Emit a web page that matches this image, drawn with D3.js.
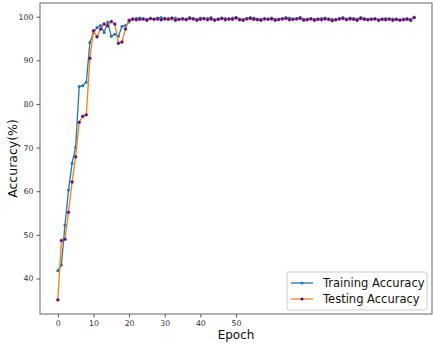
<!DOCTYPE html>
<html>
<head>
<meta charset="utf-8">
<script src="https://cdn.jsdelivr.net/npm/d3@7"></script>
<style>
  body { margin: 0; background: #fff; }
  text { font-family: "DejaVu Sans", sans-serif; }
</style>
</head>
<body>
<svg id="chart" width="433" height="344"></svg>
<script>
// accuracy per epoch
var trainAcc = [41.8, 43.1, 52.2, 60.3, 66.4, 70.1, 84.0, 84.2, 85.0, 94.1,
  96.3, 97.5, 98.0, 96.4, 98.7, 95.5, 96.0, 95.5, 97.8, 98.0, 98.8,
  99.4, 99.6, 99.7, 99.5, 99.4, 99.6, 99.5, 99.7, 99.8, 99.4,
  99.6, 99.5, 99.7, 99.3, 99.6, 99.5, 99.8, 99.6, 99.4, 99.7,
  99.5, 99.6, 99.8, 99.3, 99.5, 99.7, 99.6, 99.4, 99.7, 99.9,
  99.5, 99.4, 99.6, 99.8, 99.7, 99.5, 99.4, 99.6, 99.5, 99.7,
  99.4, 99.3, 99.6, 99.8, 99.7, 99.5, 99.6, 99.9, 99.4, 99.5,
  99.6, 99.4, 99.5, 99.6, 99.7, 99.5, 99.4, 99.3, 99.6, 99.8,
  99.5, 99.7, 99.6, 99.5, 99.8, 99.6, 99.4, 99.5, 99.6, 99.3,
  99.5, 99.6, 99.4, 99.5, 99.4, 99.3, 99.5, 99.6, 99.4, 99.9];

var testAcc = [35.1, 48.7, 49.0, 55.2, 62.1, 67.9, 75.8, 77.2, 77.5, 90.5,
  96.8, 95.4, 97.2, 98.3, 97.9, 98.9, 98.3, 93.9, 94.2, 97.2, 99.2,
  99.5, 99.3, 99.4, 99.5, 99.2, 99.6, 99.4, 99.5, 99.3, 99.6,
  99.4, 99.7, 99.2, 99.4, 99.5, 99.3, 99.6, 99.5, 99.2, 99.4,
  99.6, 99.3, 99.5, 99.2, 99.4, 99.6, 99.3, 99.5, 99.4, 99.7,
  99.3, 99.2, 99.5, 99.6, 99.4, 99.3, 99.2, 99.5, 99.4, 99.5,
  99.2, 99.4, 99.5, 99.6, 99.3, 99.4, 99.5, 99.6, 99.2, 99.3,
  99.5, 99.2, 99.4, 99.3, 99.5, 99.4, 99.1, 99.3, 99.5, 99.6,
  99.3, 99.5, 99.4, 99.2, 99.6, 99.4, 99.3, 99.4, 99.5, 99.2,
  99.4, 99.3, 99.5, 99.2, 99.4, 99.2, 99.3, 99.4, 99.2, 99.8];

var xTicks = [0, 10, 20, 30, 40, 50];
var yTicks = [40, 50, 60, 70, 80, 90, 100];
var seriesNames = ['Training Accuracy', 'Testing Accuracy'];

var svg = d3.select('#chart');
var pLeft = 40, pRight = 432, pTop = 3, pBottom = 314;

var x = d3.scaleLinear().domain([-5, 105]).range([pLeft, pRight]);
var y = d3.scaleLinear().domain([31.86, 103.14]).range([pBottom, pTop]);

// axes
var xAxis = svg.append('g')
  .attr('transform', 'translate(0,' + pBottom + ')')
  .call(d3.axisBottom(x).tickValues(xTicks).tickSize(3.5).tickPadding(2.5));
var yAxis = svg.append('g')
  .attr('transform', 'translate(' + pLeft + ',0)')
  .call(d3.axisLeft(y).tickValues(yTicks).tickSize(3.5).tickPadding(3));

[xAxis, yAxis].forEach(function(a){
  a.select('.domain').remove();
  a.selectAll('line').attr('stroke', '#555');
  a.selectAll('text').attr('fill', '#333').style('font-size', '7.8px');
});

// frame
svg.append('rect')
  .attr('x', pLeft).attr('y', pTop)
  .attr('width', pRight - pLeft).attr('height', pBottom - pTop)
  .attr('fill', 'none').attr('stroke', '#666').attr('stroke-width', 1);

var line = d3.line()
  .x(function(d, i){ return x(i); })
  .y(function(d){ return y(d); });

// training
svg.append('path').datum(trainAcc)
  .attr('d', line).attr('fill', 'none')
  .attr('stroke', '#1f77b4').attr('stroke-width', 1.3);
svg.append('g').selectAll('circle').data(trainAcc).enter()
  .append('circle')
  .attr('cx', function(d, i){ return x(i); })
  .attr('cy', function(d){ return y(d); })
  .attr('r', 1.5).attr('fill', '#1f77b4');

// testing
svg.append('path').datum(testAcc)
  .attr('d', line).attr('fill', 'none')
  .attr('stroke', '#ff7f0e').attr('stroke-width', 1.3);
svg.append('g').selectAll('circle').data(testAcc).enter()
  .append('circle')
  .attr('cx', function(d, i){ return x(i); })
  .attr('cy', function(d){ return y(d); })
  .attr('r', 1.5).attr('fill', '#2b1496')
  .attr('stroke', '#d0306a').attr('stroke-width', 0.5);

// axis titles
svg.append('text')
  .attr('x', (pLeft + pRight) / 2).attr('y', 339)
  .attr('text-anchor', 'middle')
  .style('font-size', '12px').attr('fill', '#111')
  .text('Epoch');
svg.append('text')
  .attr('transform', 'translate(17,' + ((pTop + pBottom) / 2) + ') rotate(-90)')
  .attr('text-anchor', 'middle')
  .style('font-size', '12.5px').attr('fill', '#111')
  .text('Accuracy(%)');

// legend
var lg = svg.append('g').attr('transform', 'translate(287,272)');
lg.append('rect')
  .attr('width', 140).attr('height', 38).attr('rx', 2)
  .attr('fill', '#fff').attr('stroke', '#ccc');
var colors = ['#1f77b4', '#ff7f0e'];
var dots = ['#1f77b4', '#2b1496'];
seriesNames.forEach(function(name, i){
  var yy = 11 + i * 16;
  lg.append('line').attr('x1', 4).attr('x2', 26).attr('y1', yy).attr('y2', yy)
    .attr('stroke', colors[i]).attr('stroke-width', 1.3);
  lg.append('circle').attr('cx', 15).attr('cy', yy).attr('r', 1.5).attr('fill', dots[i]);
  lg.append('text').attr('x', 36).attr('y', yy + 4)
    .style('font-size', '11.5px').attr('fill', '#111')
    .text(name);
});
</script>
</body>
</html>
